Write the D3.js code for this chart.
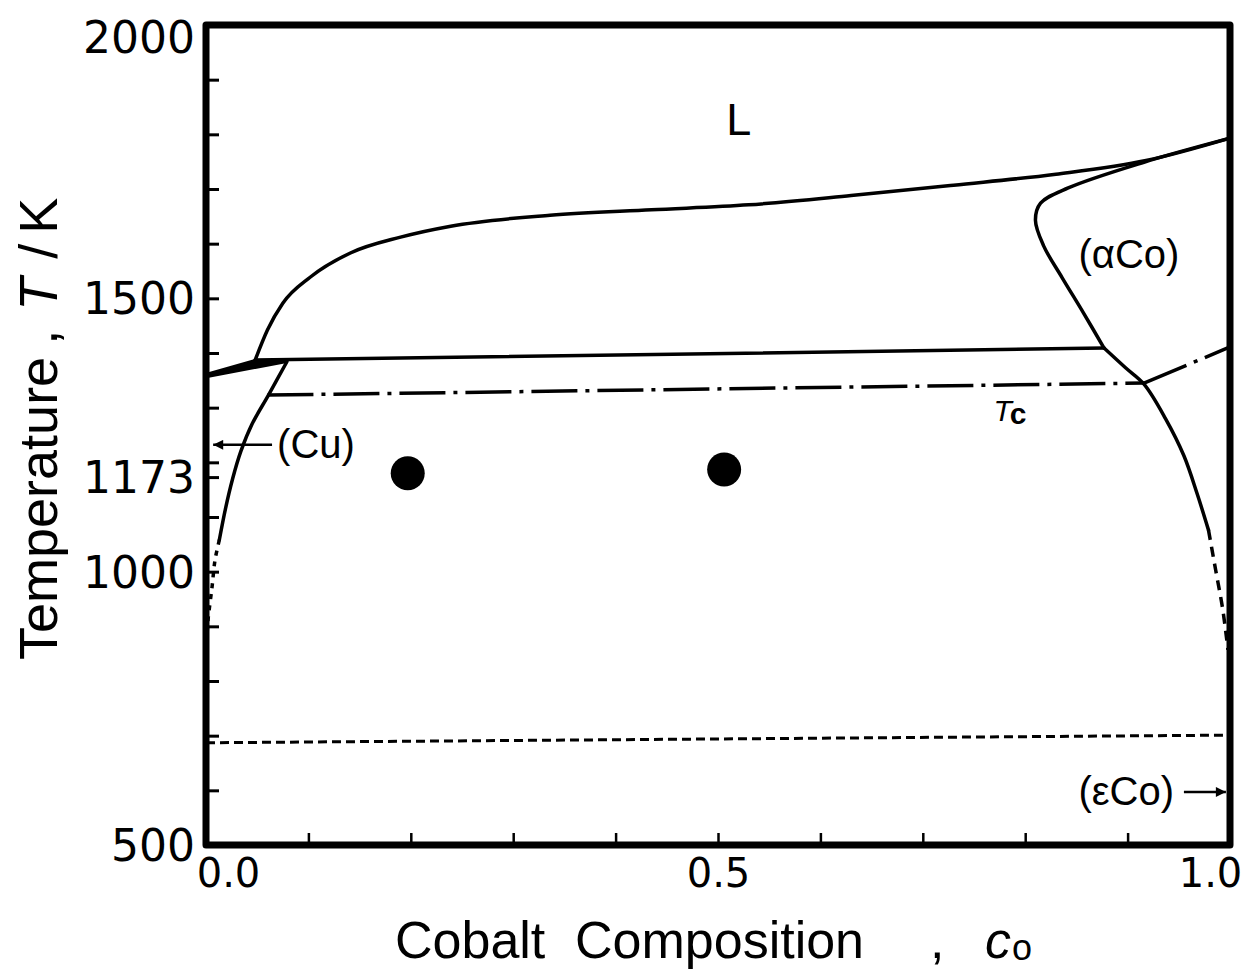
<!DOCTYPE html>
<html>
<head>
<meta charset="utf-8">
<script src="https://cdn.jsdelivr.net/npm/d3@7"></script>
<style>
  body { margin: 0; background: #fff; }
  svg { display: block; }
</style>
</head>
<body>
<div id="chart"></div>
<script>
var width = 1247, height = 972;
var sans = "'Liberation Sans', Arial, sans-serif";
var numFont = "'DejaVu Sans', sans-serif";

// values: [composition c0, temperature K]
var liquidusCu = [[0, 1361], [0.048, 1387]];
var solidusCu = [[0, 1356], [0.079, 1384]];
var liquidus = [[0.048, 1387], [0.060, 1442], [0.075, 1491], [0.102, 1539], [0.141, 1583],
  [0.190, 1612], [0.239, 1632], [0.336, 1652], [0.435, 1662], [0.530, 1671], [0.630, 1688],
  [0.730, 1707], [0.830, 1727], [0.918, 1752], [1.0, 1793]];
var solidusCo = [[1.0, 1793], [0.916, 1749], [0.842, 1702], [0.815, 1674], [0.810, 1643],
  [0.818, 1596], [0.836, 1538], [0.857, 1473], [0.877, 1409]];
var solvusCo = [[0.877, 1409], [0.898, 1373], [0.916, 1343], [0.937, 1280], [0.955, 1212],
  [0.968, 1142], [0.979, 1076]];
var solvusCoExt = [[0.979, 1076], [0.986, 1003], [0.993, 930], [0.998, 857]];
var solvusCu = [[0.079, 1384], [0.061, 1323], [0.045, 1270], [0.034, 1220], [0.026, 1170],
  [0.019, 1115], [0.013, 1058]];
var solvusCuExt = [[0.013, 1058], [0.0088, 1021], [0.0059, 972], [0.002, 912], [0.001, 884]];
var peritectic = [[0.048, 1387], [0.877, 1409]];
var curieCu = [[0.060, 1323], [0.916, 1345]];
var curieCo = [[0.916, 1345], [1.0, 1411]];
var martensite = [[0, 687], [1.0, 701]];
var samples = [[0.197, 1180], [0.506, 1187]];

var xTicks = [0, 0.1, 0.2, 0.3, 0.4, 0.5, 0.6, 0.7, 0.8, 0.9, 1.0];
var xLabels = {0: "0.0", 0.5: "0.5", 1: "1.0"};
var yTicks = [500, 600, 700, 800, 900, 1000, 1100, 1173, 1200, 1300, 1400, 1500, 1600, 1700, 1800, 1900, 2000];
var yLabels = [500, 1000, 1173, 1500, 2000];

var svg = d3.select("#chart").append("svg")
    .attr("width", width)
    .attr("height", height);

var x = d3.scaleLinear().domain([0, 1]).range([206, 1230]);
var y = d3.scaleLinear().domain([500, 2000]).range([845, 25]);

// axes (ticks inside)
var xAxis = svg.append("g")
    .attr("transform", "translate(0," + y(500) + ")")
    .call(d3.axisBottom(x).tickValues(xTicks).tickSizeInner(-12).tickSizeOuter(0).tickPadding(14)
      .tickFormat(function(d) { return xLabels[d] || ""; }));
xAxis.select(".domain").remove();
xAxis.selectAll("line").attr("stroke-width", 2.5);
xAxis.selectAll("text")
    .attr("font-family", numFont)
    .attr("font-size", 40)
    .attr("fill", "#000")
    .attr("dx", function(d) { return d === 0 ? 22 : (d === 1 ? -20 : 0); });

var yAxis = svg.append("g")
    .attr("transform", "translate(" + x(0) + ",0)")
    .call(d3.axisLeft(y).tickValues(yTicks).tickSizeInner(-13).tickSizeOuter(0).tickPadding(11)
      .tickFormat(function(d) { return yLabels.indexOf(d) >= 0 ? d : ""; }));
yAxis.select(".domain").remove();
yAxis.selectAll("line").attr("stroke-width", 3);
yAxis.selectAll("text")
    .attr("font-family", numFont)
    .attr("font-size", 44)
    .attr("fill", "#000")
    .attr("dy", function(d) { return d === 2000 ? "0.62em" : "0.35em"; });

// frame
svg.append("rect")
    .attr("x", x(0)).attr("y", y(2000))
    .attr("width", x(1) - x(0)).attr("height", y(500) - y(2000))
    .attr("fill", "none").attr("stroke", "#000").attr("stroke-width", 7)
    .attr("stroke-linejoin", "round");

var line = d3.line()
    .x(function(d) { return x(d[0]); })
    .y(function(d) { return y(d[1]); });
var smooth = d3.line()
    .x(function(d) { return x(d[0]); })
    .y(function(d) { return y(d[1]); })
    .curve(d3.curveCatmullRom.alpha(0.5));
var monoX = d3.line()
    .x(function(d) { return x(d[0]); })
    .y(function(d) { return y(d[1]); })
    .curve(d3.curveMonotoneX);

function draw(data, gen, dash, w) {
  svg.append("path")
      .attr("d", gen(data))
      .attr("fill", "none")
      .attr("stroke", "#000")
      .attr("stroke-width", w || 3.5)
      .attr("stroke-linecap", dash ? "butt" : "round")
      .attr("stroke-dasharray", dash || null);
}

// thick wedge between Cu liquidus and solidus
svg.append("path")
    .attr("d", line([liquidusCu[0], liquidusCu[1], solidusCu[1], solidusCu[0]]) + "Z")
    .attr("fill", "#000").attr("stroke", "#000").attr("stroke-width", 2.5)
    .attr("stroke-linejoin", "round");
draw(liquidus, monoX);
draw(solidusCo, smooth);
draw(solvusCo, smooth);
draw(solvusCoExt, smooth, "10,7", 3.5);
draw(solvusCu, smooth);
draw(solvusCuExt, smooth, "5,6", 3.5);
draw(peritectic, line);
draw(curieCu, line, "46,8,4,8");
draw(curieCo, line, "46,8,4,8");
draw(martensite, line, "9,5", 3);

svg.selectAll(".sample").data(samples).enter().append("circle")
    .attr("class", "sample")
    .attr("cx", function(d) { return x(d[0]); })
    .attr("cy", function(d) { return y(d[1]); })
    .attr("r", 17)
    .attr("fill", "#000");

// arrow marker
svg.append("defs").append("marker")
    .attr("id", "arr")
    .attr("viewBox", "0 0 10 10")
    .attr("refX", 10).attr("refY", 5)
    .attr("markerWidth", 5).attr("markerHeight", 4)
    .attr("markerUnits", "strokeWidth")
    .attr("orient", "auto")
  .append("path").attr("d", "M0,0L10,5L0,10z").attr("fill", "#000");

var arrows = [[[0.0645, 1232], [0.007, 1232]], [[0.955, 597], [0.996, 597]]];
arrows.forEach(function(a) {
  svg.append("path").attr("d", line(a))
      .attr("stroke", "#000").attr("stroke-width", 2.5)
      .attr("marker-end", "url(#arr)");
});

// region labels
function label(c, t, txt, size) {
  return svg.append("text")
      .attr("x", x(c)).attr("y", y(t))
      .attr("font-family", sans)
      .attr("font-size", size)
      .attr("fill", "#000")
      .text(txt);
}
label(0.508, 1799, "L", 45);
label(0.852, 1555, "(αCo)", 40);
label(0.0694, 1208, "(Cu)", 40);
label(0.852, 573, "(εCo)", 40);

var tc = svg.append("text")
    .attr("x", x(0.769)).attr("y", y(1276))
    .attr("font-family", sans).attr("fill", "#000");
tc.append("tspan").attr("font-size", 30).attr("font-style", "italic").text("T");
tc.append("tspan").attr("font-size", 30).attr("font-weight", "bold").attr("dy", 3).attr("dx", -2).text("c");

// axis titles
var xt = svg.append("g").attr("font-family", sans).attr("font-size", 52).attr("fill", "#000");
xt.append("text").attr("x", 395).attr("y", 958).text("Cobalt");
xt.append("text").attr("x", 575).attr("y", 958).text("Composition");
xt.append("text").attr("x", 930).attr("y", 958).text(",");
var c0 = xt.append("text").attr("x", 985).attr("y", 958);
c0.append("tspan").attr("font-style", "italic").text("c");
c0.append("tspan").attr("font-size", 36).attr("dx", 1).attr("dy", 2).text("o");

var yt = svg.append("text")
    .attr("transform", "translate(57,660) rotate(-90)")
    .attr("font-family", sans).attr("font-size", 54).attr("fill", "#000");
yt.append("tspan").text("Temperature");
yt.append("tspan").attr("dx", 12).text(",");
yt.append("tspan").attr("dx", 19).attr("font-style", "italic").text("T");
yt.append("tspan").attr("dx", 19).text("/");
yt.append("tspan").attr("dx", 10).text("K");
</script>
</body>
</html>
